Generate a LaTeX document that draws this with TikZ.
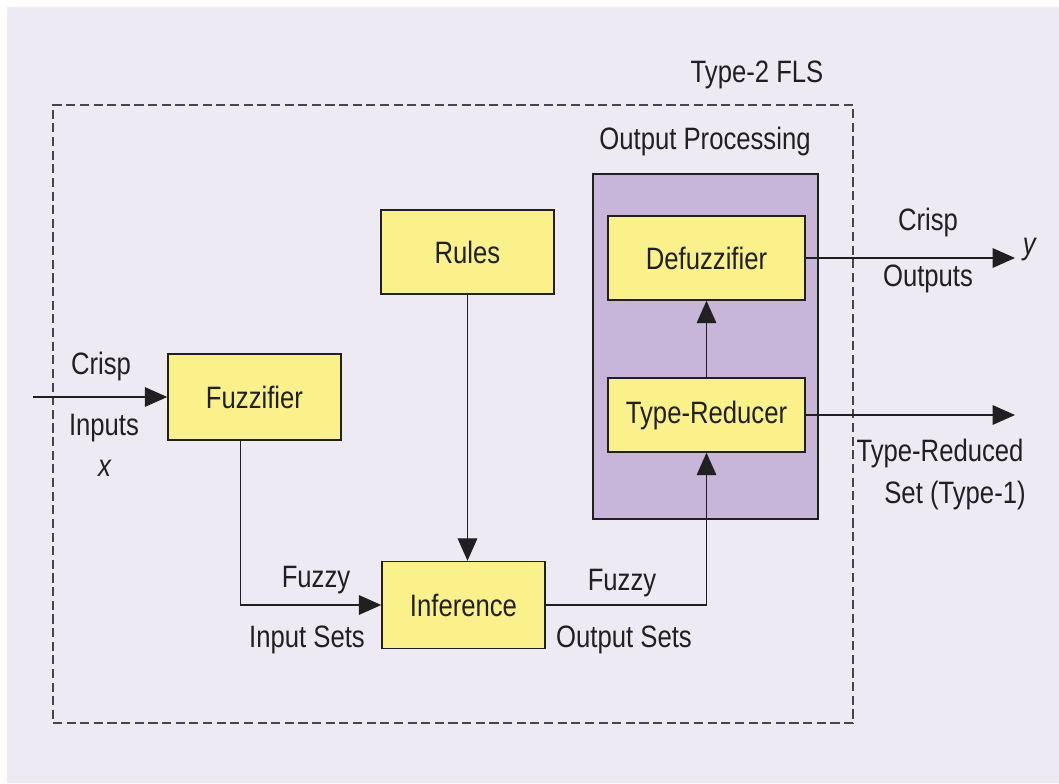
\documentclass[tikz,border=0pt]{standalone}
\usepackage{fontspec}
\setmainfont{Liberation Sans}[FakeStretch=0.83]
\definecolor{lavbg}{RGB}{237,234,243}
\definecolor{boxyellow}{RGB}{250,241,138}
\definecolor{procpurple}{RGB}{200,181,218}
\definecolor{linegray}{RGB}{32,32,32}
\definecolor{dashgray}{RGB}{70,70,74}
\usetikzlibrary{arrows.meta,positioning}

\begin{document}
\begin{tikzpicture}[x=0.025cm, y=-0.025cm,
      arr/.style={-{Triangle[length=16pt,width=14pt]}, line width=0.9pt, linegray},
      blk/.style={draw=linegray, line width=1pt, fill=boxyellow, inner sep=0pt,
                  font=\fontsize{22}{26}\selectfont, text=linegray},
      lbl/.style={inner sep=0pt, font=\fontsize{22}{26}\selectfont, text=linegray},
      fls/.style={draw=dashgray, line width=1.1pt, dash pattern=on 6.5pt off 3.2pt},
      proc/.style={draw=linegray, line width=1pt, fill=procpurple}
    ]
    % background
    \fill[white] (0,0) rectangle (1059,783);
    \fill[lavbg] (7,7) rectangle (1059,783);
    % frames
    \node[fls, minimum width=20cm, minimum height=15.45cm] (sys) at (453,414) {};
    \node[lbl] (sysname) at (757,75) {Type-2 FLS};
    \node[proc, minimum width=5.625cm, minimum height=8.625cm] (outproc) at (705.5,346.5) {};
    \node[lbl] (procname) at (705,141) {Output Processing};
    % blocks
    \node[blk, minimum width=4.325cm, minimum height=2.15cm] (fuzz) at (254.5,397) {Fuzzifier};
    \node[blk, minimum width=4.325cm, minimum height=2.1cm] (rules) at (467.5,252) {Rules};
    \node[blk, minimum width=4.075cm, minimum height=2.175cm] (infer) at (463.5,605) {Inference};
    \node[blk, minimum width=4.925cm, minimum height=2.1cm] (defuzz) at (706.5,258) {Defuzzifier};
    \node[blk, minimum width=4.925cm, minimum height=1.85cm] (tred) at (706.5,415) {Type-Reducer};
    % free ends
    \coordinate (xin) at (33,397);
    \coordinate (yout) at (1015,253);
    % connectors
    \draw[arr] (xin) -- (fuzz.west);
    \draw[arr] ([xshift=-10pt]fuzz.south) |- (infer.west);
    \draw[arr] (rules.south) -- (rules.south |- infer.north);
    \draw[arr] (infer.east) -| (tred.south);
    \draw[arr] (tred.north) -- (defuzz.south);
    \draw[arr] (defuzz.east) -- (defuzz.east -| yout);
    \draw[arr] (tred.east) -- (tred.east -| yout);
    % labels
    \node[lbl] (cin) at (101,366) {Crisp};
    \node[lbl] (inp) at (104,428) {Inputs};
    \node[lbl] (xvar) at (105,468) {\textit{x}};
    \node[lbl] (fz1) at (316,580) {Fuzzy};
    \node[lbl] (ins) at (307,640) {Input Sets};
    \node[lbl] (fz2) at (622,583) {Fuzzy};
    \node[lbl] (outs) at (624,640) {Output Sets};
    \node[lbl] (cout) at (928,222) {Crisp};
    \node[lbl] (outp) at (928,279) {Outputs};
    \node[lbl] (yvar) at (1030,250) {\textit{y}};
    \node[lbl] (trs) at (940,453) {Type-Reduced};
    \node[lbl] (trt) at (955,495) {Set (Type-1)};
  \end{tikzpicture}
\end{document}
